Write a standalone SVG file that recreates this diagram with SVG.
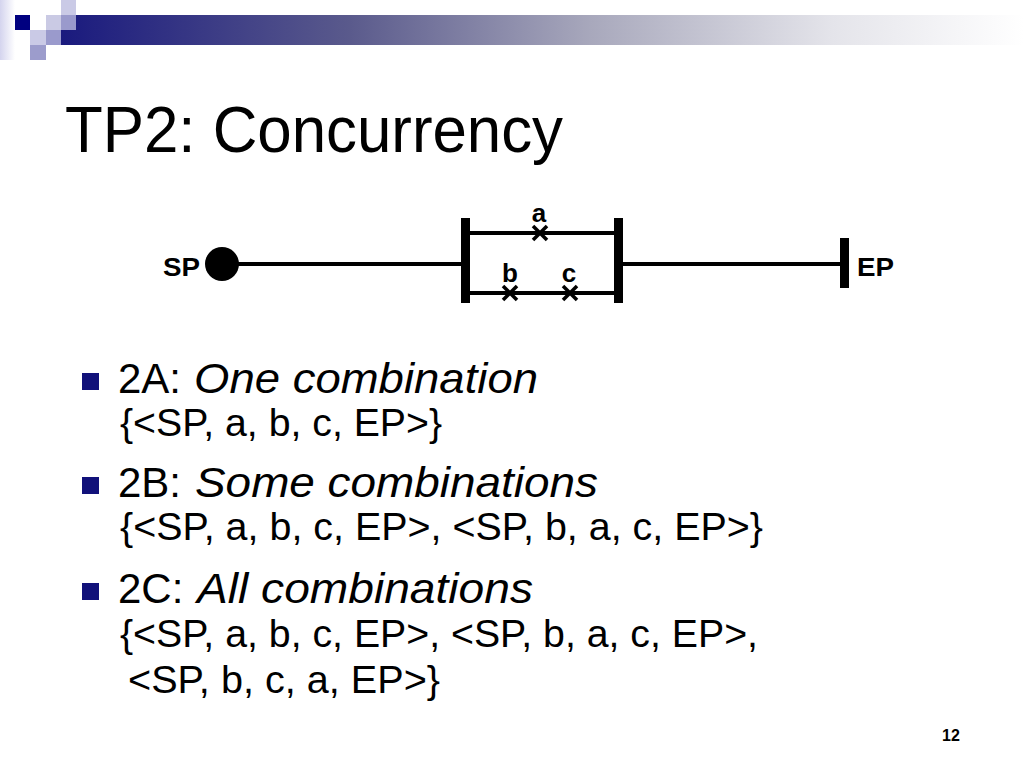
<svg xmlns="http://www.w3.org/2000/svg" width="1024" height="768" viewBox="0 0 1024 768">
  <defs>
    <linearGradient id="barGrad" x1="0" y1="0" x2="1" y2="0">
      <stop offset="0" stop-color="#1a1a7e"/>
      <stop offset="0.3" stop-color="#5a5a8c"/>
      <stop offset="0.55" stop-color="#a8a8bc"/>
      <stop offset="0.8" stop-color="#e4e4ea"/>
      <stop offset="1" stop-color="#ffffff"/>
    </linearGradient>
    <linearGradient id="edgeGrad" x1="0" y1="0" x2="1" y2="0">
      <stop offset="0" stop-color="#d4d4ee"/>
      <stop offset="1" stop-color="#ffffff"/>
    </linearGradient>
    <style>
      .title { font-family: "Liberation Sans", Arial, sans-serif; font-size: 65px; fill: #000; }
      .lvl1 { font-family: "Liberation Sans", Arial, sans-serif; font-size: 42px; fill: #000; }
      .it { font-style: italic; }
      .lvl2 { font-family: "Liberation Sans", Arial, sans-serif; font-size: 38px; fill: #000; }
      .lbl { font-family: "Liberation Sans", Arial, sans-serif; font-weight: bold; font-size: 26px; fill: #000; }
      .bullet { fill: #11117a; }
      .wire { stroke: #000; stroke-width: 4; fill: none; }
      .bar { fill: #000; }
      .cross { stroke: #000; stroke-width: 3.5; stroke-linecap: butt; }
      .pg { font-family: "Liberation Sans", Arial, sans-serif; font-weight: bold; font-size: 16px; fill: #000; }
    </style>
  </defs>

  <rect width="1024" height="768" fill="#ffffff"/>

  <!-- header decoration -->
  <g id="header">
    <rect x="0" y="0" width="15" height="60" fill="url(#edgeGrad)"/>
    <rect x="61" y="15" width="963" height="30" fill="url(#barGrad)"/>
    <rect x="61" y="0" width="15" height="15" fill="#cacae6"/>
    <rect x="15" y="15" width="15" height="15" fill="#000080"/>
    <rect x="46" y="15" width="15" height="15" fill="#cacae4"/>
    <rect x="61" y="15" width="15" height="15" fill="#9a9acc"/>
    <rect x="30" y="30" width="16" height="15" fill="#cacae6"/>
    <rect x="46" y="30" width="15" height="15" fill="#9a9acc"/>
    <rect x="30" y="45" width="16" height="15" fill="#9c9ccc"/>
  </g>

  <text class="title" x="65" y="152" textLength="498" lengthAdjust="spacingAndGlyphs">TP2: Concurrency</text>

  <!-- connectors -->
  <g id="connectors">
    <line class="wire" x1="236" y1="264" x2="462" y2="264"/>
    <line class="wire" x1="468" y1="233" x2="616" y2="233"/>
    <line class="wire" x1="468" y1="293" x2="616" y2="293"/>
    <line class="wire" x1="622" y1="264" x2="842" y2="264"/>
  </g>

  <!-- nodes -->
  <g id="node-SP">
    <ellipse cx="222" cy="264" rx="17" ry="17" fill="#000"/>
    <text class="lbl" x="163" y="276" textLength="37" lengthAdjust="spacingAndGlyphs">SP</text>
  </g>
  <g id="node-fork">
    <rect class="bar" x="461" y="218" width="9" height="85"/>
  </g>
  <g id="node-join">
    <rect class="bar" x="614" y="218" width="9" height="85"/>
  </g>
  <g id="node-EP">
    <rect class="bar" x="840" y="238" width="9" height="50"/>
    <text class="lbl" x="857" y="276" textLength="37" lengthAdjust="spacingAndGlyphs">EP</text>
  </g>
  <g id="node-a">
    <line class="cross" x1="533" y1="226" x2="547" y2="240"/>
    <line class="cross" x1="547" y1="226" x2="533" y2="240"/>
    <text class="lbl" x="539" y="222" text-anchor="middle">a</text>
  </g>
  <g id="node-b">
    <line class="cross" x1="503" y1="286" x2="517" y2="300"/>
    <line class="cross" x1="517" y1="286" x2="503" y2="300"/>
    <text class="lbl" x="510" y="282" text-anchor="middle">b</text>
  </g>
  <g id="node-c">
    <line class="cross" x1="563" y1="286" x2="577" y2="300"/>
    <line class="cross" x1="577" y1="286" x2="563" y2="300"/>
    <text class="lbl" x="569" y="282" text-anchor="middle">c</text>
  </g>

  <!-- bullets -->
  <g id="bullet-2A">
    <rect class="bullet" x="82" y="373" width="17" height="17"/>
    <text class="lvl1" x="118" y="393">2A:</text>
    <text class="lvl1 it" x="194" y="393" textLength="344" lengthAdjust="spacingAndGlyphs">One combination</text>
    <text class="lvl2" x="120" y="436" textLength="322" lengthAdjust="spacingAndGlyphs">{&lt;SP, a, b, c, EP&gt;}</text>
  </g>
  <g id="bullet-2B">
    <rect class="bullet" x="82" y="477" width="17" height="17"/>
    <text class="lvl1" x="118" y="497">2B:</text>
    <text class="lvl1 it" x="195" y="497" textLength="403" lengthAdjust="spacingAndGlyphs">Some combinations</text>
    <text class="lvl2" x="120" y="540" textLength="643" lengthAdjust="spacingAndGlyphs">{&lt;SP, a, b, c, EP&gt;, &lt;SP, b, a, c, EP&gt;}</text>
  </g>
  <g id="bullet-2C">
    <rect class="bullet" x="82" y="583" width="17" height="17"/>
    <text class="lvl1" x="118" y="603">2C:</text>
    <text class="lvl1 it" x="197" y="603" textLength="336" lengthAdjust="spacingAndGlyphs">All combinations</text>
    <text class="lvl2" x="120" y="647" textLength="638" lengthAdjust="spacingAndGlyphs">{&lt;SP, a, b, c, EP&gt;, &lt;SP, b, a, c, EP&gt;,</text>
    <text class="lvl2" x="128" y="693" textLength="312" lengthAdjust="spacingAndGlyphs">&lt;SP, b, c, a, EP&gt;}</text>
  </g>

  <text class="pg" x="951" y="741" text-anchor="middle">12</text>
</svg>
